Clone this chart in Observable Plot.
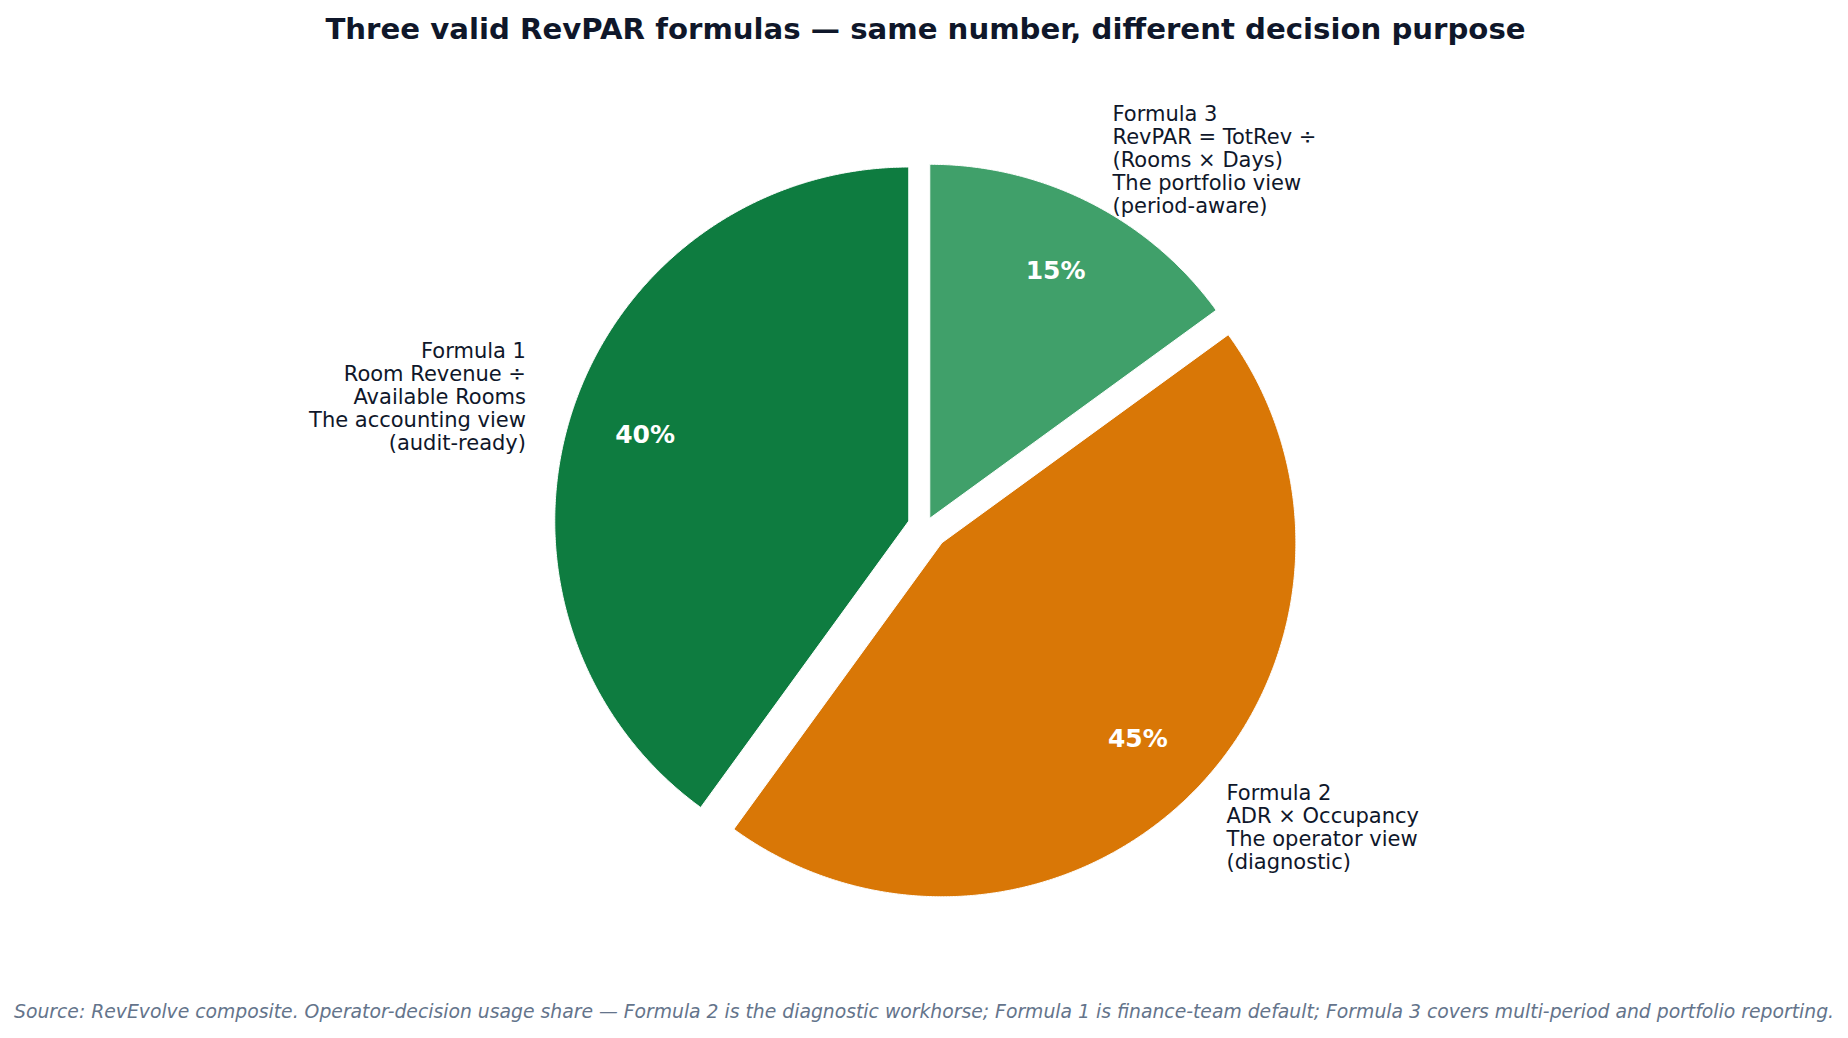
<!DOCTYPE html>
<html><head><meta charset="utf-8">
<script src="https://cdn.jsdelivr.net/npm/d3@7"></script>
<script src="https://cdn.jsdelivr.net/npm/@observablehq/plot@0.6"></script>
<style>
html,body{margin:0;padding:0;background:#fff;}
body{width:1848px;height:1038px;overflow:hidden;font-family:"DejaVu Sans",sans-serif;}
#title{height:56px;line-height:58px;text-align:center;font-weight:bold;font-size:29.2px;color:#0f172a;padding-left:3px;white-space:nowrap;}
#chart{height:920px;}
#chart svg{display:block;}
#caption{height:62px;line-height:72px;text-align:center;font-style:italic;font-size:18.8px;color:#64748b;white-space:nowrap;}
</style></head><body>
<div id="title">Three valid RevPAR formulas — same number, different decision purpose</div>
<div id="chart"></div>
<div id="caption">Source: RevEvolve composite. Operator-decision usage share — Formula 2 is the diagnostic workhorse; Formula 1 is finance-team default; Formula 3 covers multi-period and portfolio reporting.</div>
<script>
// ---- data ----
const categories = ["Formula 1", "Formula 2", "Formula 3"];
const formulas = ["Room Revenue ÷\nAvailable Rooms", "ADR × Occupancy", "RevPAR = TotRev ÷\n(Rooms × Days)"];
const views = ["The accounting view\n(audit-ready)", "The operator view\n(diagnostic)", "The portfolio view\n(period-aware)"];
const shares = [40, 45, 15];
const explode = [0.05, 0.065, 0.026];
const colors = ["#0e7c40", "#d97706", "#40a06a"];

// ---- layout (pie radius = 1 data unit) ----
const W = 1848, H = 920, R = 354, CX = 925.1, CY = 470;
const labelDistance = 1.137, pctDistance = 0.783;

const total = d3.sum(shares);
const arcs = d3.pie().sort(null).value(d => d)(shares);

const wedgePts = [];
const labels = [];
const pcts = [];
arcs.forEach((a, i) => {
  const t0 = Math.PI / 2 + a.startAngle;
  const t1 = Math.PI / 2 + a.endAngle;
  const tm = (t0 + t1) / 2;
  const ox = explode[i] * Math.cos(tm), oy = explode[i] * Math.sin(tm);
  const n = Math.ceil((t1 - t0) / (Math.PI / 720));
  wedgePts.push({key: categories[i], color: colors[i], x: ox, y: oy});
  for (let k = 0; k <= n; k++) {
    const t = t0 + (t1 - t0) * k / n;
    wedgePts.push({key: categories[i], color: colors[i], x: ox + Math.cos(t), y: oy + Math.sin(t)});
  }
  wedgePts.push({key: categories[i], color: colors[i], x: ox, y: oy});
  const lx = ox + labelDistance * Math.cos(tm), ly = oy + labelDistance * Math.sin(tm);
  labels.push({x: lx, y: ly, anchor: lx < 0 ? "end" : "start",
    text: categories[i] + "\n" + formulas[i] + "\n" + views[i]});
  pcts.push({x: ox + pctDistance * Math.cos(tm), y: oy + pctDistance * Math.sin(tm),
    text: Math.round(shares[i] / total * 100) + "%"});
});

const chart = Plot.plot({
  width: W, height: H, margin: 0,
  style: {fontFamily: "DejaVu Sans, sans-serif", background: "white"},
  x: {domain: [-CX / R, (W - CX) / R], axis: null},
  y: {domain: [(CY - H) / R, CY / R], axis: null},
  color: {type: "identity"},
  marks: [
    Plot.line(wedgePts, {x: "x", y: "y", z: "key", fill: "color", stroke: "white", strokeWidth: 1, strokeLinejoin: "miter", curve: "linear"}),
    Plot.text(labels.filter(d => d.anchor === "end"), {x: "x", y: "y", text: "text", textAnchor: "end", lineAnchor: "middle", lineHeight: 1.09, fontSize: 21, fill: "#0f172a"}),
    Plot.text(labels.filter(d => d.anchor === "start"), {x: "x", y: "y", text: "text", textAnchor: "start", lineAnchor: "middle", lineHeight: 1.09, fontSize: 21, fill: "#0f172a"}),
    Plot.text(pcts, {x: "x", y: "y", text: "text", fontSize: 25, fontWeight: "bold", fill: "white"})
  ]
});
document.getElementById("chart").appendChild(chart);
</script>
</body></html>
